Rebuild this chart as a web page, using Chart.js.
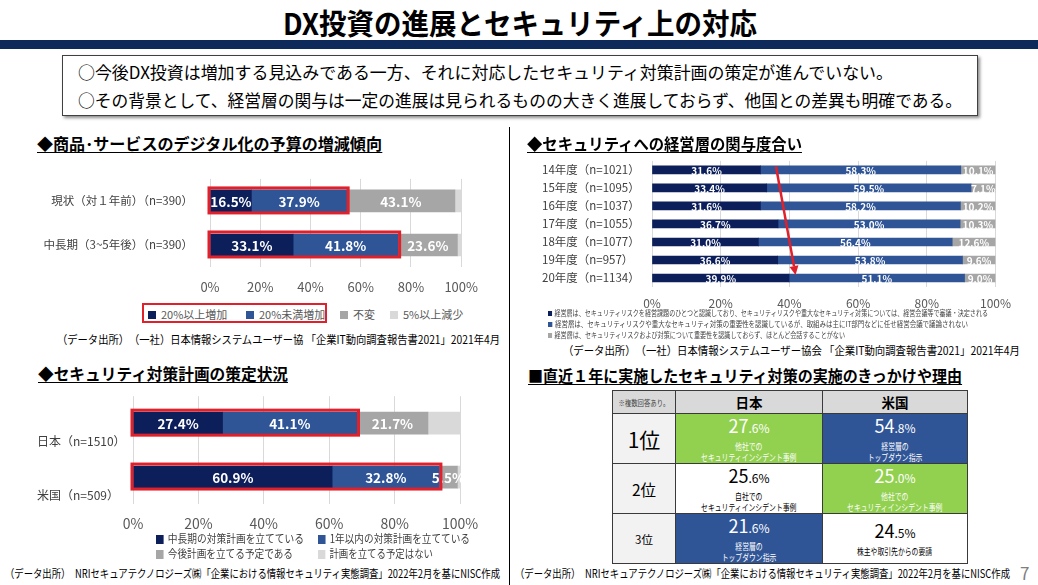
<!DOCTYPE html>
<html lang="ja">
<head>
<meta charset="utf-8">
<script src="https://cdn.jsdelivr.net/npm/chart.js@4.4.1/dist/chart.umd.min.js"></script>
<style>
html,body{margin:0;padding:0;}
body{width:1038px;height:585px;position:relative;background:#fff;overflow:hidden;font-family:"Noto Sans CJK JP","Noto Sans",sans-serif;color:#000;}
.abs{position:absolute;}
.t{white-space:nowrap;}
canvas{position:absolute;}
.sq{display:inline-block;vertical-align:middle;position:relative;top:-1px;}
#reasonTable{position:absolute;left:612px;top:390px;display:grid;grid-template-columns:63px 147px 145px;grid-template-rows:23px 50px 50px 50px;border-left:1px solid #3a3a3a;border-top:1px solid #3a3a3a;}
#reasonTable > div{box-sizing:border-box;border-right:1px solid #3a3a3a;border-bottom:1px solid #3a3a3a;display:flex;flex-direction:column;align-items:center;justify-content:center;text-align:center;overflow:hidden;}
.val{line-height:20px;white-space:nowrap;}
.val .big{font-size:18px;}
.val .small{font-size:12px;}
.desc{font-size:9px;line-height:11px;white-space:nowrap;transform:scaleX(0.76);margin-top:3px;}
</style>
</head>
<body>
<div class="abs" style="left:0;top:40px;width:1038px;height:9px;background:#0e2a5b;"></div>
<div class="abs" style="left:62px;top:55px;width:914px;height:59px;border:1px solid #404040;box-shadow:2px 2px 3px rgba(0,0,0,0.45);background:#fff;"></div>
<div class="abs" style="left:509px;top:127px;width:1px;height:458px;background:#000;"></div>

<canvas id="budgetChart" width="460" height="145" style="left:30px;top:155px;width:460px;height:145px;"></canvas>
<canvas id="mgmtChart" width="483" height="162" style="left:537px;top:150px;width:483px;height:162px;"></canvas>
<canvas id="planChart" width="460" height="150" style="left:30px;top:385px;width:460px;height:150px;"></canvas>
<div id="reasonTable"></div>

<script>
// ---------------- DATA ----------------
const percentTicks = ['0%', '20%', '40%', '60%', '80%', '100%'];

// Chart 1: 商品・サービスのデジタル化の予算の増減傾向
const budgetCategories = ['現状（対１年前）（n=390）', '中長期（3~5年後）（n=390）'];
const budgetSeriesNames = ['20%以上増加', '20%未満増加', '不変', '5%以上減少'];
const budgetOver20 = [16.5, 33.1];
const budgetUnder20 = [37.9, 41.8];
const budgetUnchanged = [43.1, 23.6];
const budgetDecrease = [2.5, 1.5];

// Chart 2: セキュリティへの経営層の関与度合い
const mgmtCategories = ['14年度（n=1021）', '15年度（n=1095）', '16年度（n=1037）', '17年度（n=1055）', '18年度（n=1077）', '19年度（n=957）', '20年度（n=1134）'];
const mgmtSeriesNames = [
  '経営層は、セキュリティリスクを経営課題のひとつと認識しており、セキュリティリスクや重大なセキュリティ対策については、経営会議等で審議・決定される',
  '経営層は、セキュリティリスクや重大なセキュリティ対策の重要性を認識しているが、取組みは主にIT部門などに任せ経営会議で議論されない',
  '経営層は、セキュリティリスクおよび対策について重要性を認識しておらず、ほとんど会話することがない'
];
const mgmtDecided = [31.6, 33.4, 31.6, 36.7, 31.0, 36.6, 39.9];
const mgmtDelegated = [58.3, 59.5, 58.2, 53.0, 56.4, 53.8, 51.1];
const mgmtUnaware = [10.1, 7.1, 10.2, 10.3, 12.6, 9.6, 9.0];
const mgmtArrowStart = [0, 36.1];   // [row index, value %]
const mgmtArrowEnd = [6, 41.8];

// Chart 3: セキュリティ対策計画の策定状況
const planCategories = ['日本（n=1510）', '米国（n=509）'];
const planSeriesNames = ['中長期の対策計画を立てている', '1年以内の対策計画を立てている', '今後計画を立てる予定である', '計画を立てる予定はない'];
const planLongTerm = [27.4, 60.9];
const planWithinYear = [41.1, 32.8];
const planFuture = [21.7, 5.5];
const planNone = [9.8, 0.8];

// Table: 直近１年に実施したセキュリティ対策の実施のきっかけや理由
const reasonNote = '※複数回答あり。';
const reasonCountries = ['日本', '米国'];
const reasonRanks = ['1位', '2位', '3位'];
const reasonJapanValues = [27.6, 25.6, 21.6];
const reasonJapanTexts = ['他社での\nセキュリティインシデント事例', '自社での\nセキュリティインシデント事例', '経営層の\nトップダウン指示'];
const reasonUSValues = [54.8, 25.0, 24.5];
const reasonUSTexts = ['経営層の\nトップダウン指示', '他社での\nセキュリティインシデント事例', '株主や取引先からの要請'];

// ---------------- STYLE ----------------
const FONT = '"Noto Sans CJK JP","Noto Sans",sans-serif';
const NAVY = '#0c1f5b', BLUE = '#2f5597', GRAY = '#a6a6a6', LIGHT = '#d9d9d9', RED = '#e0202a';
const GREEN = '#92d050';
const fourColors = [NAVY, BLUE, GRAY, LIGHT];
const threeColors = [NAVY, BLUE, GRAY];
Chart.defaults.font.family = FONT;

const fits = [];
function addText(text, style, fitW, cls) {
  const d = document.createElement('div');
  d.className = 'abs t' + (cls ? ' ' + cls : '');
  if (typeof text === 'string') d.textContent = text; else d.innerHTML = text.html;
  Object.assign(d.style, style);
  document.body.appendChild(d);
  if (fitW) fits.push([d, fitW]);
  return d;
}
function applyFits() {
  fits.forEach(([d, w]) => {
    d.style.transform = 'none';
    const r = d.getBoundingClientRect().width;
    d.style.transformOrigin = 'left center';
    if (r > 0) d.style.transform = 'scaleX(' + (w / r) + ')';
  });
}

// ---------------- HEADER ----------------
addText('DX投資の進展とセキュリティ上の対応', {left:'283px', top:'3px', fontSize:'29px', fontWeight:'700', lineHeight:'38px'}, 474);
addText('○今後DX投資は増加する見込みである一方、それに対応したセキュリティ対策計画の策定が進んでいない。', {left:'78px', top:'62px', fontSize:'17px', lineHeight:'20px'}, 815);
addText('○その背景として、経営層の関与は一定の進展は見られるものの大きく進展しておらず、他国との差異も明確である。', {left:'78px', top:'90px', fontSize:'17px', lineHeight:'20px'}, 884);

const titleStyle = (l, t) => ({left:l+'px', top:t+'px', fontSize:'16px', fontWeight:'700', lineHeight:'18px', borderBottom:'1.5px solid #000'});
addText('◆商品･サービスのデジタル化の予算の増減傾向', titleStyle(37, 134), 345);
addText('◆セキュリティへの経営層の関与度合い', titleStyle(527, 134), 275);
addText('◆セキュリティ対策計画の策定状況', titleStyle(38, 364), 250);
addText('■直近１年に実施したセキュリティ対策の実施のきっかけや理由', titleStyle(528, 366), 434);

const srcStyle = (l, c) => ({left:l+'px', top:(c-8)+'px', fontSize:'11.5px', lineHeight:'16px'});
addText('（データ出所）　（一社）日本情報システムユーザー協 「企業IT動向調査報告書2021」2021年4月', srcStyle(57, 339), 443);
addText('（データ出所）　（一社）日本情報システムユーザー協会 「企業IT動向調査報告書2021」2021年4月', srcStyle(563, 350), 457);
addText('（データ出所）　NRIセキュアテクノロジーズ㈱「企業における情報セキュリティ実態調査」2022年2月を基にNISC作成', srcStyle(5, 573), 495);
addText('（データ出所）　NRIセキュアテクノロジーズ㈱「企業における情報セキュリティ実態調査」2022年2月を基にNISC作成', srcStyle(515, 573), 495);
addText('7', {left:'1020px', top:'562px', fontSize:'17px', lineHeight:'22px', color:'#7f7f7f'});

// ---------------- LEGENDS ----------------
function legendItem(name, color, left, centerY, fontSize, sq, textColor, fitW) {
  return addText({html:'<span class="sq" style="width:'+sq+'px;height:'+sq+'px;background:'+color+';margin-right:'+Math.round(sq*0.6)+'px"></span>' + name},
    {left:left+'px', top:(centerY - fontSize*0.75)+'px', fontSize:fontSize+'px', lineHeight:(fontSize*1.5)+'px', color:textColor}, fitW);
}
const budgetLegendX = [148, 246, 340, 390];
budgetSeriesNames.forEach((n, i) => legendItem(n, fourColors[i], budgetLegendX[i], 314, 11, 8, '#595959'));
addText('', {left:'142px', top:'303px', width:'181px', height:'16px', border:'2.5px solid ' + RED});

const mgmtLegendY = [313, 324, 335];
const mgmtLegendW = [440, 420, 297];
mgmtSeriesNames.forEach((n, i) => legendItem(n, threeColors[i], 548, mgmtLegendY[i], 7.5, 5, '#404040', mgmtLegendW[i]));

const planLegendPos = [[156, 539], [318, 539], [156, 554], [318, 554]];
const planLegendW = [148, 152, 137, 115];
planSeriesNames.forEach((n, i) => legendItem(n, fourColors[i], planLegendPos[i][0], planLegendPos[i][1], 11.5, 9, '#404040', planLegendW[i]));

// ---------------- PLUGINS ----------------
const segmentLabels = {
  id: 'segmentLabels',
  afterDatasetsDraw(chart, args, opts) {
    const ctx = chart.ctx;
    ctx.save();
    ctx.font = 'bold ' + opts.size + 'px ' + FONT;
    ctx.fillStyle = '#ffffff';
    ctx.textAlign = 'center';
    ctx.textBaseline = 'middle';
    chart.data.datasets.forEach((ds, di) => {
      if (di >= opts.count) return;
      chart.getDatasetMeta(di).data.forEach((bar, i) => {
        const p = bar.getProps(['x', 'base', 'y'], true);
        ctx.fillText(ds.data[i].toFixed(1) + '%', (p.x + p.base) / 2, p.y + 1);
      });
    });
    ctx.restore();
  }
};
const highlightBox = {
  id: 'highlightBox',
  afterDatasetsDraw(chart, args, opts) {
    if (!opts.count) return;
    const ctx = chart.ctx;
    const first = chart.getDatasetMeta(0).data;
    const last = chart.getDatasetMeta(opts.count - 1).data;
    ctx.save();
    ctx.strokeStyle = RED;
    ctx.lineWidth = 3;
    first.forEach((bar, i) => {
      const a = bar.getProps(['base', 'y', 'height'], true);
      const b = last[i].getProps(['x'], true);
      ctx.strokeRect(a.base - 1.5, a.y - a.height / 2 - 2, b.x - a.base + 3, a.height + 3);
    });
    ctx.restore();
  }
};
const trendArrow = {
  id: 'trendArrow',
  afterDatasetsDraw(chart, args, opts) {
    if (!opts.from) return;
    const xs = chart.scales.x, ys = chart.scales.y, ctx = chart.ctx;
    const x1 = xs.getPixelForValue(opts.from[1]), y1 = ys.getPixelForValue(opts.from[0]) - 3.5;
    const x2 = xs.getPixelForValue(opts.to[1]), y2 = ys.getPixelForValue(opts.to[0]) - 3;
    const ang = Math.atan2(y2 - y1, x2 - x1), hl = 9, hw = 4.5;
    const bx = x2 - hl * Math.cos(ang), by = y2 - hl * Math.sin(ang);
    ctx.save();
    ctx.strokeStyle = RED; ctx.fillStyle = RED; ctx.lineWidth = 2.5;
    ctx.beginPath(); ctx.moveTo(x1, y1); ctx.lineTo(bx, by); ctx.stroke();
    ctx.beginPath();
    ctx.moveTo(x2, y2);
    ctx.lineTo(bx + hw * Math.sin(ang), by - hw * Math.cos(ang));
    ctx.lineTo(bx - hw * Math.sin(ang), by + hw * Math.cos(ang));
    ctx.closePath(); ctx.fill();
    ctx.restore();
  }
};

// ---------------- CHART FACTORY ----------------
function stackedBar(id, labels, series, names, colors, cfg) {
  return new Chart(document.getElementById(id), {
    type: 'bar',
    data: {
      labels: labels,
      datasets: series.map((d, i) => ({label: names[i], data: d, backgroundColor: colors[i], borderWidth: 0, barThickness: cfg.bar}))
    },
    options: {
      indexAxis: 'y',
      responsive: false,
      animation: false,
      events: [],
      layout: {padding: cfg.padding},
      plugins: {
        legend: {display: false},
        tooltip: {enabled: false},
        segmentLabels: {count: cfg.labelCount, size: cfg.labelSize},
        highlightBox: {count: cfg.highlight || 0},
        trendArrow: cfg.arrow || {}
      },
      scales: {
        x: {
          stacked: true, min: 0, max: 100,
          ticks: {stepSize: 20, callback: (v) => percentTicks[Math.round(v / 20)], color: '#595959', font: {size: cfg.xTick}, padding: cfg.xPad, maxRotation: 0},
          grid: {color: '#d9d9d9', lineWidth: 1, drawTicks: false},
          border: {display: false},
          afterFit: (s) => { s.height = cfg.xHeight; }
        },
        y: {
          stacked: true,
          ticks: {color: '#404040', font: {size: cfg.yTick}, padding: cfg.yPad, crossAlign: cfg.cross || 'near', labelOffset: cfg.labelOffset || 0, autoSkip: false},
          grid: {display: false, drawTicks: false},
          border: {display: false},
          afterFit: (s) => { s.width = cfg.yWidth; }
        }
      }
    },
    plugins: [segmentLabels, highlightBox, trendArrow]
  });
}

stackedBar('budgetChart', budgetCategories, [budgetOver20, budgetUnder20, budgetUnchanged, budgetDecrease], budgetSeriesNames, fourColors,
  {bar: 22, padding: {top: 5, right: 19, bottom: 0, left: 0}, labelCount: 3, labelSize: 13.5, highlight: 2,
   xTick: 13, xPad: 12, xHeight: 33, yTick: 11.5, yPad: 17, yWidth: 180});

stackedBar('mgmtChart', mgmtCategories, [mgmtDecided, mgmtDelegated, mgmtUnaware], mgmtSeriesNames, threeColors,
  {bar: 8, padding: {top: 7, right: 22, bottom: 0, left: 5}, labelCount: 3, labelSize: 10,
   arrow: {from: mgmtArrowStart, to: mgmtArrowEnd},
   xTick: 12, xPad: 9, xHeight: 25, yTick: 11.5, yPad: 4, yWidth: 110, cross: 'far'});

stackedBar('planChart', planCategories, [planLongTerm, planWithinYear, planFuture, planNone], planSeriesNames, fourColors,
  {bar: 22, padding: {top: 7, right: 30, bottom: 0, left: 7}, labelCount: 3, labelSize: 13.5, highlight: 2,
   xTick: 14, xPad: 11, xHeight: 31, yTick: 12, yPad: 4, yWidth: 96, cross: 'far', labelOffset: 18});

// ---------------- TABLE ----------------
function reasonFill(text) {
  if (text.startsWith('他社')) return GREEN;
  if (text.startsWith('経営層')) return BLUE;
  return '#ffffff';
}
const rankSizes = [21, 15.5, 11.5];
const table = document.getElementById('reasonTable');
function cell(html, style) {
  const c = document.createElement('div');
  c.innerHTML = html;
  Object.assign(c.style, style || {});
  table.appendChild(c);
  return c;
}
cell('<span style="font-size:7.5px;color:#404040;white-space:nowrap;display:inline-block;transform:scaleX(0.85)">' + reasonNote + '</span>', {background: '#d9d9d9'});
reasonCountries.forEach(c => cell(c, {background: '#d9d9d9', fontSize: '13.5px', fontWeight: '700'}));
function valueHtml(v) {
  const parts = v.toFixed(1).split('.');
  return '<div class="val"><span class="big">' + parts[0] + '</span><span class="small">.' + parts[1] + '%</span></div>';
}
reasonRanks.forEach((r, i) => {
  cell(r, {background: '#f2f2f2', fontSize: rankSizes[i] + 'px'});
  [[reasonJapanValues[i], reasonJapanTexts[i]], [reasonUSValues[i], reasonUSTexts[i]]].forEach(([v, t]) => {
    const bg = reasonFill(t);
    const fg = bg === '#ffffff' ? '#000' : '#fff';
    cell(valueHtml(v) + '<div class="desc">' + t.replace('\n', '<br>') + '</div>', {background: bg, color: fg});
  });
});

applyFits();
if (document.fonts && document.fonts.ready) document.fonts.ready.then(applyFits);
</script>
</body>
</html>
